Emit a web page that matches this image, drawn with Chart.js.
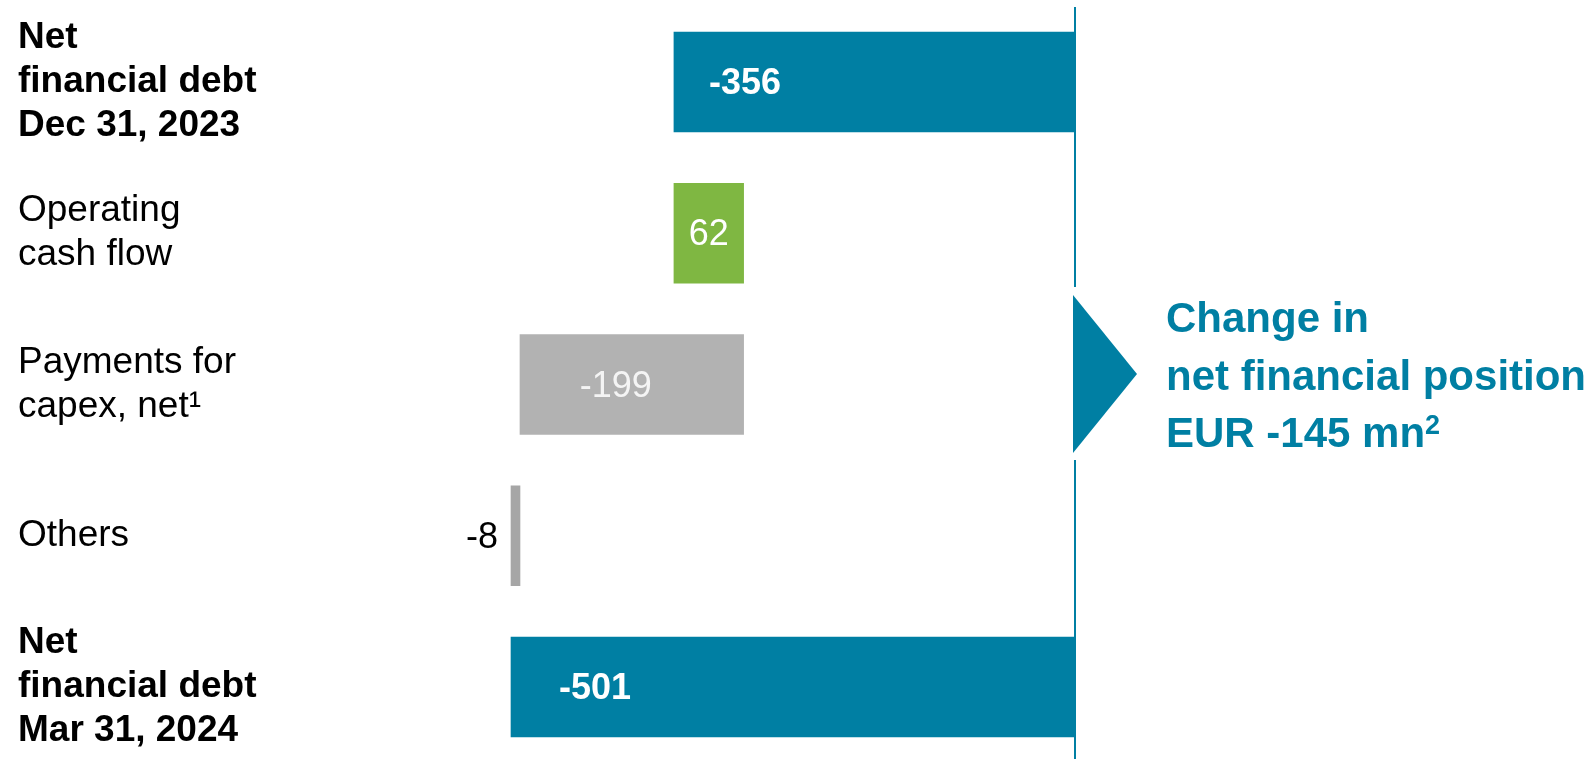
<!DOCTYPE html>
<html>
<head>
<meta charset="utf-8">
<script src="https://cdn.jsdelivr.net/npm/chart.js@4.4.1/dist/chart.umd.min.js"></script>
<style>
  html, body { margin: 0; padding: 0; background: #ffffff; overflow: hidden; }
  #wrap { position: relative; width: 1596px; height: 759px; }
  #c { position: absolute; left: 0; top: 0; }
  #note {
    position: absolute; left: 1166px; top: 289px;
    font-family: "Liberation Sans", Arial, sans-serif; font-weight: bold;
    font-size: 42px; line-height: 57.5px; color: #007FA3; white-space: nowrap;
  }
  #note .sup { font-size: 27px; position: relative; top: -13px; line-height: 0; }
</style>
</head>
<body>
<div id="wrap">
  <canvas id="c" width="1596" height="759"></canvas>
  <div id="note">Change in<br>net financial position<br>EUR -145 mn<span class="sup">2</span></div>
</div>
<script>
// ---- data ----
const categories = [
  ["Net", "financial debt", "Dec 31, 2023"],
  ["Operating", "cash flow"],
  ["Payments for", "capex, net¹"],
  ["Others"],
  ["Net", "financial debt", "Mar 31, 2024"]
];
const values = [-356, 62, -199, -8, -501];
const kinds = ["total", "delta", "delta", "delta", "total"];

// ---- styles ----
const TEAL = "#007FA3";
const barColors = [TEAL, "#7FB742", "#B2B2B2", "#A6A6A6", TEAL];
const boldCats = [true, false, false, false, true];
const labelCfg = [
  { color: "#ffffff", weight: "bold", mode: "start", dx: 35 },
  { color: "#ffffff", weight: "normal", mode: "center", dx: 0 },
  { color: "#F4F4F4", weight: "normal", mode: "center", dx: -16 },
  { color: "#000000", weight: "normal", mode: "outside", dx: -13 },
  { color: "#ffffff", weight: "bold", mode: "start", dx: 48 }
];
const FONT = '"Liberation Sans", Arial, sans-serif';

// floating ranges built from the values (waterfall)
const ranges = [];
let running = 0;
values.forEach((v, i) => {
  if (kinds[i] === "total") { ranges.push([v, 0]); running = v; }
  else { ranges.push([running, running + v]); running += v; }
});

const overlay = {
  id: "overlay",
  afterDatasetsDraw(chart) {
    const ctx = chart.ctx;
    const x0 = chart.scales.x.getPixelForValue(0);
    ctx.save();
    // zero line with gap for the arrow
    ctx.fillStyle = TEAL;
    ctx.fillRect(x0, 7, 2, 280);
    ctx.fillRect(x0, 460, 2, 299);
    ctx.beginPath();
    ctx.moveTo(x0 - 1, 295);
    ctx.lineTo(x0 + 63, 374);
    ctx.lineTo(x0 - 1, 453);
    ctx.closePath();
    ctx.fill();
    // value labels
    const meta = chart.getDatasetMeta(0);
    meta.data.forEach((el, i) => {
      const cfg = labelCfg[i];
      const left = Math.min(el.x, el.base), right = Math.max(el.x, el.base);
      ctx.font = cfg.weight + " 36px " + FONT;
      ctx.fillStyle = cfg.color;
      ctx.textBaseline = "alphabetic";
      const txt = String(values[i]);
      let x;
      if (cfg.mode === "start") { ctx.textAlign = "left"; x = left + cfg.dx; }
      else if (cfg.mode === "center") { ctx.textAlign = "center"; x = (left + right) / 2 + cfg.dx; }
      else { ctx.textAlign = "right"; x = left + cfg.dx; }
      ctx.fillText(txt, x, el.y + 12);
    });
    ctx.restore();
  }
};

new Chart(document.getElementById("c"), {
  type: "bar",
  data: {
    labels: categories,
    datasets: [{
      data: ranges,
      backgroundColor: barColors,
      borderWidth: 0,
      barThickness: 100,
      clip: false
    }]
  },
  options: {
    indexAxis: "y",
    responsive: false,
    animation: false,
    devicePixelRatio: 1,
    layout: { padding: { left: 18, right: 522, top: 82, bottom: 72 } },
    plugins: { legend: { display: false }, tooltip: { enabled: false } },
    scales: {
      x: { type: "linear", min: -501, max: 0, display: false },
      y: {
        type: "category",
        offset: false,
        grid: { display: false },
        border: { display: false },
        afterFit(scale) { scale.width = 493; },
        ticks: {
          crossAlign: "far",
          padding: 0,
          color: "#000000",
          autoSkip: false,
          font: (ctx) => ({
            family: FONT,
            size: 37,
            weight: boldCats[ctx.index] ? "bold" : "normal",
            lineHeight: 44 / 37
          })
        }
      }
    }
  },
  plugins: [overlay]
});
</script>
</body>
</html>
